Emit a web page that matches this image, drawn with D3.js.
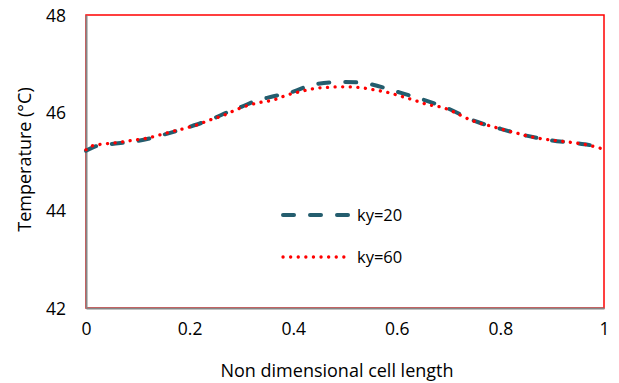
<!DOCTYPE html>
<html>
<head>
<meta charset="utf-8">
<script src="https://cdn.jsdelivr.net/npm/d3@7"></script>
<style>
  html, body { margin: 0; padding: 0; background: #fff; }
  svg { display: block; font-family: "Open Sans", "Liberation Sans", sans-serif; }
</style>
</head>
<body>
<svg id="chart" width="619" height="383"></svg>
<script>
// ---- data ----
const seriesNames = ["ky=20", "ky=60"];
const xTicks = [0, 0.2, 0.4, 0.6, 0.8, 1];
const xTickLabels = ["0", "0.2", "0.4", "0.6", "0.8", "1"];
const yTicks = [42, 44, 46, 48];
const yTickLabels = ["42", "44", "46", "48"];

const ky20X = [0, 0.025, 0.05, 0.1, 0.15, 0.2, 0.25, 0.275, 0.3, 0.33, 0.36, 0.4, 0.44, 0.5, 0.55, 0.6, 0.65, 0.7, 0.75, 0.8, 0.85, 0.9, 0.95, 0.975, 1];
const ky20Y = [45.22, 45.33, 45.36, 45.42, 45.55, 45.71, 45.90, 46.02, 46.12, 46.25, 46.33, 46.43, 46.58, 46.63, 46.58, 46.43, 46.27, 46.08, 45.83, 45.67, 45.53, 45.43, 45.37, 45.33, 45.23];

const ky60X = [0, 0.012, 0.037, 0.062, 0.088, 0.114, 0.141, 0.165, 0.191, 0.217, 0.239, 0.262, 0.288, 0.310, 0.336, 0.362, 0.388, 0.413, 0.439, 0.468, 0.5, 0.532, 0.560, 0.584, 0.610, 0.635, 0.658, 0.687, 0.709, 0.732, 0.755, 0.780, 0.806, 0.832, 0.857, 0.883, 0.912, 0.938, 0.963, 1];
const ky60Y = [45.24, 45.32, 45.36, 45.39, 45.43, 45.47, 45.54, 45.61, 45.68, 45.76, 45.85, 45.93, 46.05, 46.14, 46.21, 46.26, 46.36, 46.43, 46.49, 46.52, 46.53, 46.51, 46.46, 46.41, 46.33, 46.25, 46.17, 46.11, 46.02, 45.90, 45.80, 45.73, 45.65, 45.58, 45.51, 45.46, 45.42, 45.39, 45.35, 45.25];

const xTitle = "Non dimensional cell length";
const yTitle = "Temperature (\u00B0C)";

// ---- layout ----
const svg = d3.select("#chart");
const L = 86, R = 604, T = 15, B = 308;
const x = d3.scaleLinear().domain([0, 1]).range([L, R]);
const y = d3.scaleLinear().domain([42, 48]).range([B, T]);

// plot frame (red)
svg.append("rect")
  .attr("x", L).attr("y", T).attr("width", R - L).attr("height", B - T)
  .attr("fill", "none").attr("stroke", "#ff0000").attr("stroke-width", 1.5);

// axes (gray lines, no ticks)
const xAxis = d3.axisBottom(x).tickValues(xTicks).tickFormat((d, i) => xTickLabels[i]).tickSize(0).tickPadding(15);
const yAxis = d3.axisLeft(y).tickValues(yTicks).tickFormat((d, i) => yTickLabels[i]).tickSize(0).tickPadding(20);

const gx = svg.append("g").attr("transform", `translate(0,${B})`).call(xAxis);
const gy = svg.append("g").attr("transform", `translate(${L},0)`).call(yAxis);
[gx, gy].forEach(g => {
  g.select(".domain").attr("stroke", "#868686").attr("stroke-width", 2);
  g.selectAll("text").attr("font-size", 17.5).attr("fill", "#000")
    .attr("font-family", "'Open Sans', sans-serif");
});
gx.selectAll("text").attr("dy", "0.71em");
gy.selectAll("text").attr("dy", "0.35em");

// axis titles
svg.append("text").attr("x", 337).attr("y", 377).attr("text-anchor", "middle")
  .attr("font-size", 18).text(xTitle);
svg.append("text").attr("transform", `translate(31,${(T + B) / 2 - 2}) rotate(-90)`)
  .attr("text-anchor", "middle").attr("font-size", 18).text(yTitle);

// lines
const line = d3.line().x(d => x(d[0])).y(d => y(d[1])).curve(d3.curveMonotoneX);
const d20 = ky20X.map((v, i) => [v, ky20Y[i]]);
const d60 = ky60X.map((v, i) => [v, ky60Y[i]]);

const style20 = { stroke: "#245d6e", width: 4, dash: "11,16", cap: "round" };
const style60 = { stroke: "#ff0000", width: 3.3, dash: "0.1,7.5", cap: "round" };

svg.append("path").datum(d20).attr("d", line).attr("fill", "none")
  .attr("stroke", style20.stroke).attr("stroke-width", style20.width)
  .attr("stroke-dasharray", style20.dash).attr("stroke-linecap", style20.cap);
svg.append("path").datum(d60).attr("d", line).attr("fill", "none")
  .attr("stroke", style60.stroke).attr("stroke-width", style60.width)
  .attr("stroke-dasharray", style60.dash).attr("stroke-linecap", style60.cap);

// legend
const legend = [
  { name: seriesNames[0], s: style20, y: 215, x2: 349 },
  { name: seriesNames[1], s: style60, y: 257, x2: 346 }
];
legend.forEach(l => {
  svg.append("line").attr("x1", 283).attr("x2", l.x2).attr("y1", l.y).attr("y2", l.y)
    .attr("stroke", l.s.stroke).attr("stroke-width", l.s.width)
    .attr("stroke-dasharray", l.s.dash).attr("stroke-linecap", l.s.cap);
  svg.append("text").attr("x", 357).attr("y", l.y).attr("dy", "0.35em")
    .attr("font-size", 16.5).text(l.name);
});
</script>
</body>
</html>
